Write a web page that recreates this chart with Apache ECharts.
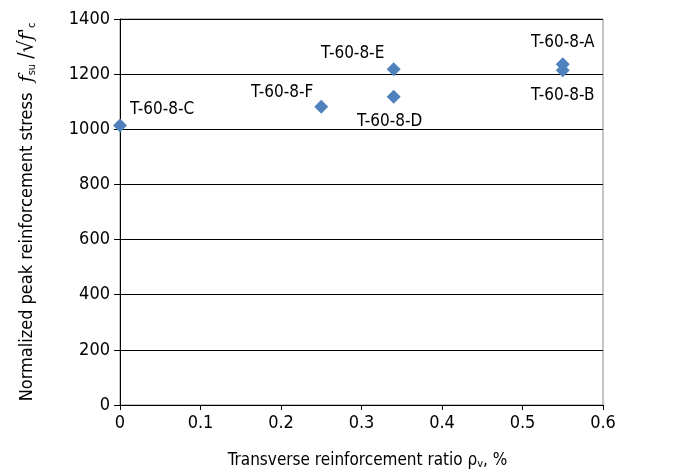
<!DOCTYPE html>
<html><head><meta charset="utf-8">
<script src="https://cdn.jsdelivr.net/npm/echarts@6/dist/echarts.min.js"></script>
<style>html,body{margin:0;padding:0;background:#fff}#c{width:691px;height:476px}</style>
</head><body><div id="c"></div>
<script>
const names = ['T-60-8-A','T-60-8-B','T-60-8-C','T-60-8-D','T-60-8-E','T-60-8-F'];
const ratio = [0.55, 0.55, 0.0, 0.34, 0.34, 0.25];
const stress = [1236, 1214, 1014, 1118, 1218, 1082];
const xTicks = [0, 0.1, 0.2, 0.3, 0.4, 0.5, 0.6];
const yTicks = [0, 200, 400, 600, 800, 1000, 1200, 1400];

const FONT = '"DejaVu Sans Condensed", "Liberation Sans Narrow", sans-serif';
const labelPlace = {
  'T-60-8-A': {position: 'top', offset: [0, -1]},
  'T-60-8-B': {position: 'bottom', offset: [0, 5]},
  'T-60-8-C': {position: 'right', offset: [-2, -16]},
  'T-60-8-D': {position: 'bottom', offset: [-4, 4]},
  'T-60-8-E': {position: 'top', offset: [-41, 5]},
  'T-60-8-F': {position: 'left', offset: [4, -14]}
};
const data = names.map((n, i) => ({
  name: n,
  value: [ratio[i], stress[i]],
  label: Object.assign({show: true, formatter: n}, labelPlace[n])
}));

const chart = echarts.init(document.getElementById('c'), null, {renderer: 'canvas'});
chart.setOption({
  animation: false,
  grid: {left: 120, right: 88, top: 19, bottom: 71, show: true, borderColor: '#8a8a8a', borderWidth: 1, containLabel: false},
  xAxis: {
    type: 'value', min: xTicks[0], max: xTicks[xTicks.length-1], interval: 0.1,
    axisLine: {show: true, onZero: false, lineStyle: {color: '#000', width: 1}},
    axisTick: {show: true, inside: false, length: 5, lineStyle: {color: '#000'}},
    splitLine: {show: false},
    axisLabel: {color: '#000', fontFamily: FONT, fontSize: 18, margin: 9, formatter: v => String(Math.round(v*10)/10)},
    name: 'Transverse reinforcement ratio ρ{s|v}, %',
    nameLocation: 'middle', nameGap: 46,
    nameTextStyle: {color: '#000', fontFamily: FONT, fontSize: 17, padding: [0, 0, 0, 12], rich: {s: {fontFamily: FONT, fontSize: 11, verticalAlign: 'bottom', padding: [8,0,0,0]}}}
  },
  yAxis: {
    type: 'value', min: yTicks[0], max: yTicks[yTicks.length-1], interval: 200,
    axisLine: {show: true, lineStyle: {color: '#000', width: 1}},
    axisTick: {show: true, inside: false, length: 6, lineStyle: {color: '#000'}},
    splitLine: {show: true, lineStyle: {color: '#000', width: 1}},
    axisLabel: {color: '#000', fontFamily: FONT, fontSize: 18, margin: 10, formatter: v => String(v)},
    name: 'Normalized peak reinforcement stress  {i|f}{s|su} {n|/√}{i|f\'}{s|c}',
    nameLocation: 'middle', nameRotate: 90, nameGap: 82,
    nameTextStyle: {color: '#000', fontFamily: FONT, fontSize: 18,
      rich: {
        i: {fontFamily: '"DejaVu Serif", serif', fontStyle: 'italic', fontSize: 19},
        s: {fontFamily: FONT, fontSize: 11, verticalAlign: 'bottom', padding: [8,0,0,0]},
        n: {fontFamily: FONT, fontSize: 21}
      }}
  },
  series: [{
    type: 'scatter',
    symbol: 'diamond', symbolSize: 14,
    itemStyle: {color: '#4F81BD', opacity: 1},
    label: {color: '#000', opacity: 1, fontFamily: FONT, fontSize: 17},
    data: data
  }]
});
</script></body></html>
